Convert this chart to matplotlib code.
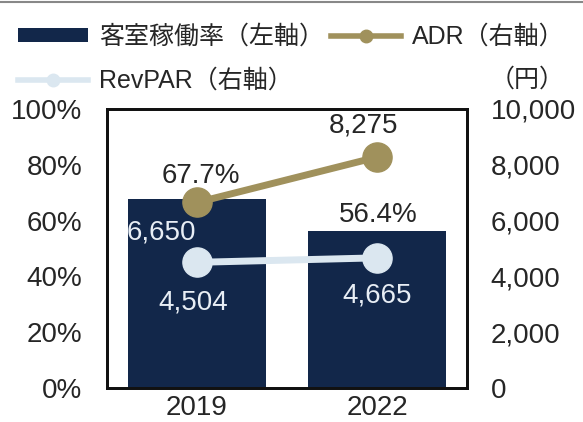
import matplotlib.pyplot as plt
from matplotlib.lines import Line2D
from matplotlib.patches import Patch
import numpy as np

plt.rcParams['font.family'] = ['Liberation Sans', 'Noto Sans CJK JP']

# data
years = ['2019', '2022']
occupancy = [67.7, 56.4]       # 客室稼働率 (%), left axis
adr = [6650, 8275]             # ADR (円), right axis
revpar = [4504, 4665]          # RevPAR (円), right axis

occ_labels = ['67.7%', '56.4%']
adr_labels = ['6,650', '8,275']
revpar_labels = ['4,504', '4,665']

navy = '#12274a'
olive = '#a0915c'
light = '#dbe7f0'
txt = '#262626'
fs = 20

fig = plt.figure(figsize=(5.83, 4.22), dpi=100)
ax = fig.add_axes([107/583, 34/422, 360/583, 279/422])
ax2 = ax.twinx()

x = np.arange(len(years))
ax.bar(x, occupancy, width=0.772, color=navy, zorder=2)
ax.set_xlim(-0.5, 1.5)
ax.set_ylim(0, 100)
ax.set_yticks(np.arange(0, 101, 20))
ax.set_yticklabels([f'{v}%' for v in range(0, 101, 20)])
ax.set_xticks(x)
ax.set_xticklabels(years)

ax2.plot(x, adr, color=olive, lw=5, marker='o', ms=21, zorder=3)
ax2.plot(x, revpar, color=light, lw=5, marker='o', ms=21, zorder=3)
ax2.set_ylim(0, 10000)
ax2.set_yticks(np.arange(0, 10001, 2000))
ax2.set_yticklabels(['0', '2,000', '4,000', '6,000', '8,000', '10,000'])

ax.tick_params(axis='y', length=0, pad=18, labelsize=fs, labelcolor=txt)
ax.tick_params(axis='x', length=0, pad=5, labelsize=fs, labelcolor=txt)
ax2.tick_params(axis='y', length=0, pad=17, labelsize=fs, labelcolor=txt)
for a in (ax, ax2):
    for s in a.spines.values():
        s.set_linewidth(2)
        s.set_color('#111111')

# data labels
occ_off = [(2.5, 17), (1, 11)]
for i, v in enumerate(occupancy):
    ax.annotate(occ_labels[i], (x[i], v), xytext=occ_off[i], textcoords='offset points',
                ha='center', va='center', fontsize=fs, color=txt, zorder=4)
adr_off = [(-26, -21.5), (-10, 23)]
adr_col = ['#e8eef5', txt]
for i, v in enumerate(adr):
    ax2.annotate(adr_labels[i], (x[i], v), xytext=adr_off[i], textcoords='offset points',
                 ha='center', va='center', fontsize=fs, color=adr_col[i], zorder=4)
rev_off = [(-2.5, -29), (0, -27)]
for i, v in enumerate(revpar):
    ax2.annotate(revpar_labels[i], (x[i], v), xytext=rev_off[i], textcoords='offset points',
                 ha='center', va='center', fontsize=fs, color='#e8eef5', zorder=4)

# legend
lfs = 18
handles = [
    Patch(facecolor=navy),
    Line2D([], [], color=light, lw=4, marker='o', ms=9),
    Line2D([], [], color=olive, lw=4, marker='o', ms=9),
]
labels = ['客室稼働率（左軸）', 'RevPAR（右軸）', 'ADR（右軸）']
fig.legend(handles, labels, ncol=2, loc='upper left', bbox_to_anchor=(-0.012, 1.0),
           frameon=False, fontsize=lfs, handlelength=2.8, handleheight=0.5,
           handletextpad=0.45, columnspacing=0.25, labelspacing=0.8,
           borderaxespad=0.6, labelcolor=txt)
fig.text(527/583, 1 - 80/422, '（円）', ha='center', va='center', fontsize=lfs, color=txt)

# thin rule at the very top
fig.add_artist(Line2D([0, 1], [1 - 1.5/422, 1 - 1.5/422], color='#888888', lw=1.5))

fig.savefig('out.png', dpi=100)
